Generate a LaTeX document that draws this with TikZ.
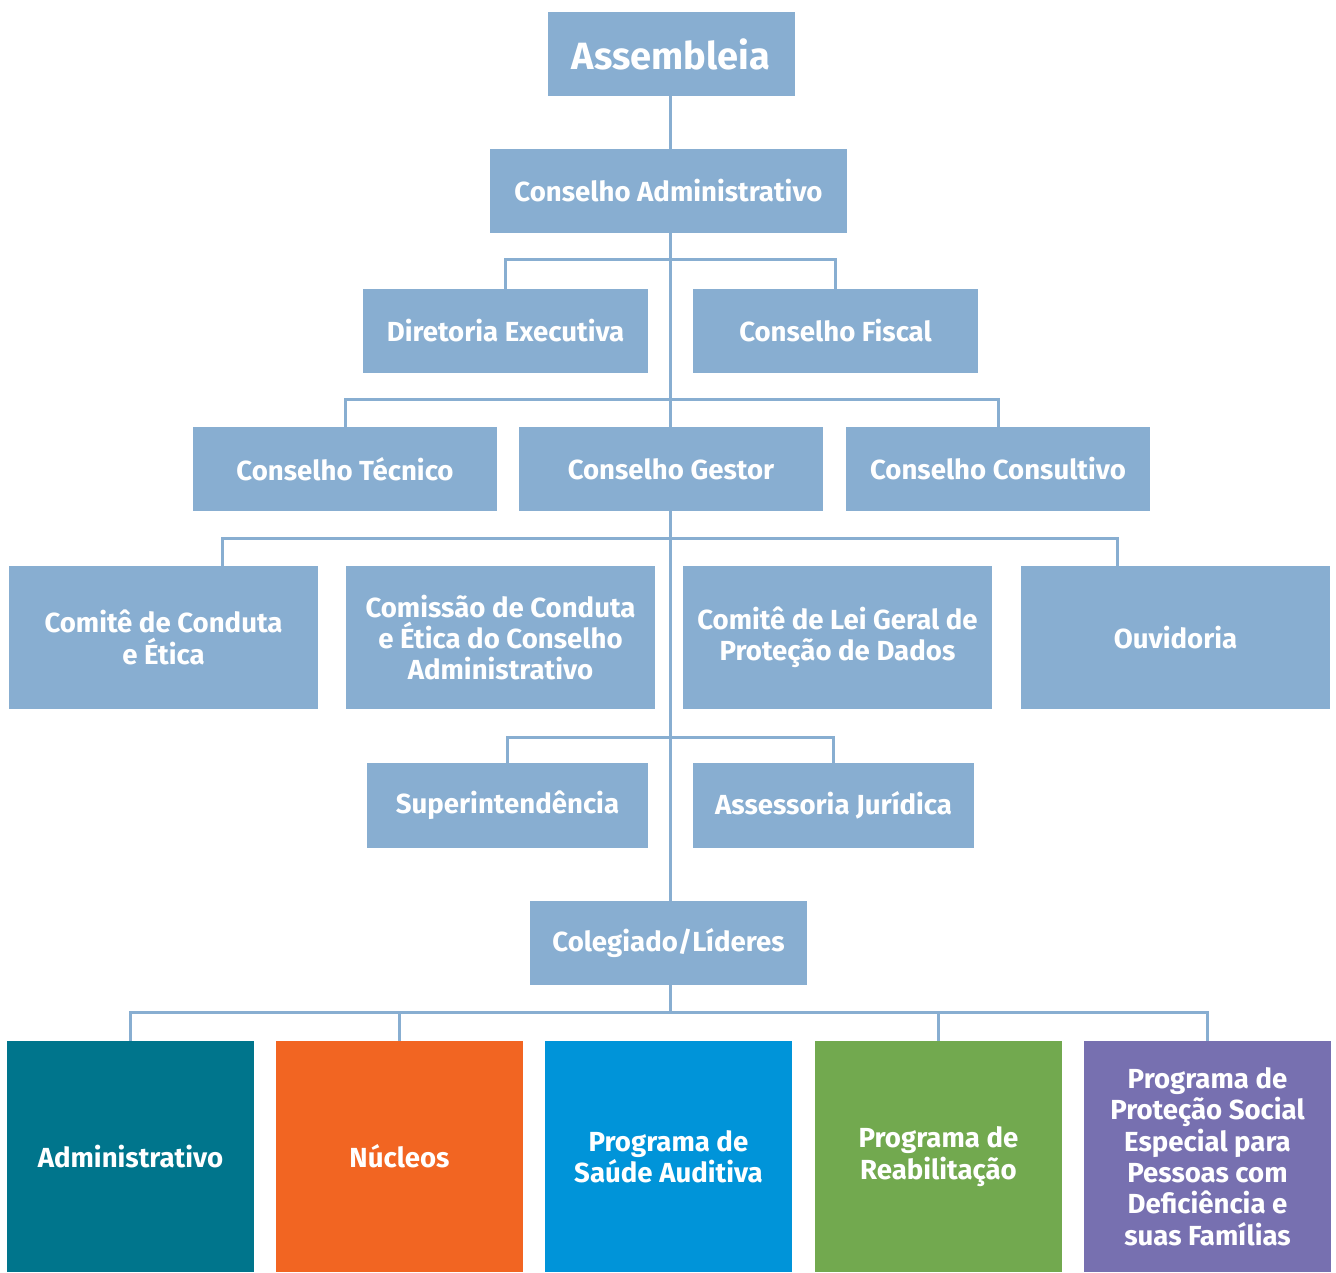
\documentclass[tikz,border=0pt]{standalone}
\usepackage{fontspec}
\setmainfont{Fira Sans}
\usepackage{tikz}

\definecolor{boxblue}{HTML}{88AED1}
\definecolor{teal}{HTML}{00758C}
\definecolor{orange}{HTML}{F26522}
\definecolor{skyblue}{HTML}{0094D9}
\definecolor{green}{HTML}{72A94F}
\definecolor{purple}{HTML}{7770B0}

\tikzset{
  orgbox/.style={fill=boxblue, text=white, align=center, inner sep=0pt,
    font=\bfseries\fontsize{13.8}{15.7}\selectfont},
  lowbox/.style={orgbox, minimum width=123.5pt, minimum height=115.5pt},
  link/.style={draw=boxblue, line width=1.5pt}
}

\begin{document}
\begin{tikzpicture}[x=0.5pt, y=-0.5pt]

\useasboundingbox (0,0) rectangle (1336,1272);

\node [orgbox, minimum width=123.5pt, minimum height=42pt,
  font=\bfseries\fontsize{19}{22}\selectfont] (asm) at (671,54) {Assembleia};
\node [orgbox, minimum width=178.5pt, minimum height=42pt] (cadm) at (668.5,191) {Conselho Administrativo};

\node [orgbox, minimum width=142.5pt, minimum height=42pt] (dir) at (505.5,331) {Diretoria Executiva};
\node [orgbox, minimum width=142.5pt, minimum height=42pt] (cfis) at (835.5,331) {Conselho Fiscal};

\node [orgbox, minimum width=152pt, minimum height=42pt] (ctec) at (345,469) {Conselho Técnico};
\node [orgbox, minimum width=152pt, minimum height=42pt] (cges) at (671,469) {Conselho Gestor};
\node [orgbox, minimum width=152pt, minimum height=42pt] (ccons) at (998,469) {Conselho Consultivo};

\node [orgbox, minimum width=154.5pt, minimum height=71.5pt] (cce) at (163.5,637.5) {Comitê de Conduta\\e Ética};
\node [orgbox, minimum width=154.5pt, minimum height=71.5pt] (ccea) at (500.5,637.5) {Comissão de Conduta\\e Ética do Conselho\\Administrativo};
\node [orgbox, minimum width=154.5pt, minimum height=71.5pt] (clg) at (837.5,637.5) {Comitê de Lei Geral de\\Proteção de Dados};
\node [orgbox, minimum width=154.5pt, minimum height=71.5pt] (ouv) at (1175.5,637.5) {Ouvidoria};

\node [orgbox, minimum width=140.5pt, minimum height=42.5pt] (sup) at (507.5,805.5) {Superintendência};
\node [orgbox, minimum width=140.5pt, minimum height=42.5pt] (ass) at (833.5,805.5) {Assessoria Jurídica};

\node [orgbox, minimum width=138.5pt, minimum height=42pt] (col) at (668.5,943) {Colegiado/Líderes};

% areas
\node [lowbox, fill=teal] (adm) at (130.5,1156.5) {Administrativo};
\node [lowbox, fill=orange] (nuc) at (399.5,1156.5) {Núcleos};
\node [lowbox, fill=skyblue] (psa) at (668.5,1156.5) {Programa de\\Saúde Auditiva};
\node [lowbox, fill=green] (prb) at (938.5,1156.5) {Programa de\\Reabilitação};
\node [lowbox, fill=purple] (pps) at (1207.5,1156.5) {Programa de\\Proteção Social\\Especial para\\Pessoas com\\Deficiência e\\suas Famílias};

% trunk
\draw [link] (asm.south -| 670,0) -- (cadm.north -| 670,0);
\draw [link] (cadm.south -| 670,0) -- (cges.north -| 670,0);
\draw [link] (cges.south -| 670,0) -- (col.north -| 670,0);

% branches
\draw [link] (dir.north) -- ++(0,-29) -| (cfis.north);
\draw [link] (ctec.north) -- ++(0,-27) -| (ccons.north);

\coordinate (gl) at (222,538);
\coordinate (gr) at (1117,538);
\draw [link] (gl |- cce.north) -- (gl) -- (gr) -- (gr |- ouv.north);

\draw [link] (sup.north) -- ++(0,-25) -| (ass.north);

\coordinate (cb) at (670,1013);
\draw [link] (col.south -| cb) -- (cb);
\draw [link] (adm.north) -- ++(0,-28) -| (pps.north);
\draw [link] (nuc.north) -- (nuc.north |- cb);
\draw [link] (prb.north) -- (prb.north |- cb);

\end{tikzpicture}
\end{document}
